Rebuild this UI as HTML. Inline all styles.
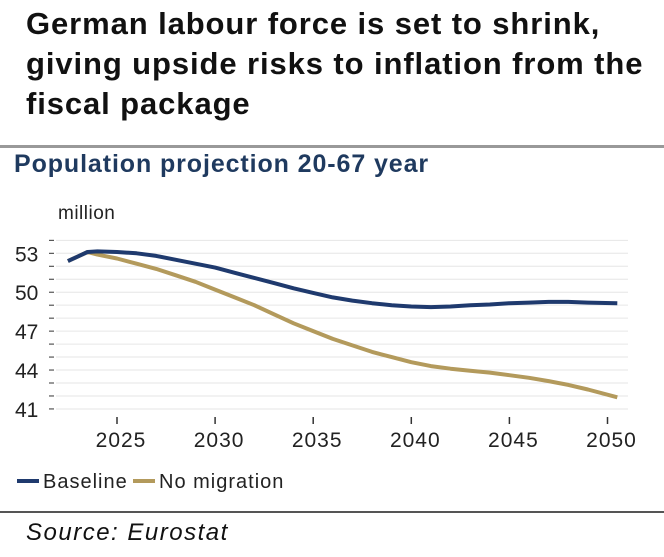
<!DOCTYPE html>
<html><head><meta charset="utf-8"><style>
body{margin:0;background:#fff;font-family:"Liberation Sans",sans-serif;}
#wrap{position:relative;width:664px;height:557px;overflow:hidden;}
.t{position:absolute;white-space:nowrap;}
</style></head><body>
<div id="wrap">
<div class="t" style="left:26px;top:4px;font-size:31px;font-weight:bold;line-height:40px;letter-spacing:0.9px;color:#111;">German labour force is set to shrink,<br>giving upside risks to inflation from the<br>fiscal package</div>
<div style="position:absolute;left:0;top:145px;width:664px;height:3px;background:#999;"></div>
<div class="t" style="left:14px;top:150px;font-size:25px;font-weight:bold;letter-spacing:0.9px;color:#1f3a5f;">Population projection 20-67 year</div>
<svg id="chart" width="664" height="557" style="position:absolute;left:0;top:0"></svg>
<div style="position:absolute;left:0;top:511px;width:664px;height:2px;background:#555;"></div>
<div class="t" style="left:26px;top:519px;font-size:24px;font-style:italic;letter-spacing:1.5px;color:#111;">Source: Eurostat</div>
</div>
<script>
const baseYears=[2022.5,2023.5,2024,2025,2026,2027,2028,2029,2030,2031,2032,2033,2034,2035,2036,2037,2038,2039,2040,2041,2042,2043,2044,2045,2046,2047,2048,2049,2050.5];
const baseline=[52.4,53.1,53.15,53.1,53.0,52.8,52.5,52.2,51.9,51.5,51.1,50.7,50.3,49.95,49.6,49.35,49.15,49.0,48.9,48.85,48.9,49.0,49.05,49.15,49.2,49.25,49.25,49.2,49.15];
const noMigration=[52.4,53.1,52.9,52.6,52.2,51.8,51.3,50.8,50.2,49.6,49.0,48.3,47.6,47.0,46.4,45.9,45.4,45.0,44.6,44.3,44.1,43.95,43.8,43.6,43.4,43.15,42.85,42.5,41.9];
const yTicks=[41,44,47,50,53];
const xTicks=[2025,2030,2035,2040,2045,2050];
const seriesNames=["Baseline","No migration"];
const NS="http://www.w3.org/2000/svg";
const svg=document.getElementById('chart');
const X=v=>117+(v-2025)*19.62;
const Y=v=>253.3+(53-v)*12.97;
function mk(t,a){const e=document.createElementNS(NS,t);for(const k in a)e.setAttribute(k,a[k]);svg.appendChild(e);return e;}
for(let v=41;v<=54;v++){
  const g=mk('line',{x1:56,x2:628,y1:Y(v),y2:Y(v),stroke:'#e6e6e6','stroke-width':1});
  
  
  const tk=mk('line',{x1:49,x2:54,y1:Y(v),y2:Y(v),stroke:'#333','stroke-width':1});
  
  
}
yTicks.forEach(v=>{const t=mk('text',{x:15,y:Y(v)+8,'font-size':21,fill:'#222','font-family':'Liberation Sans'});t.textContent=v;

});
xTicks.forEach(v=>{mk('line',{x1:X(v),x2:X(v),y1:417,y2:424,stroke:'#333','stroke-width':1.5});
const t=mk('text',{x:X(v)+4,y:447,'font-size':21,fill:'#222','text-anchor':'middle','font-family':'Liberation Sans','letter-spacing':'1'});t.textContent=v;

});
const u=mk('text',{x:58,y:219,'font-size':19,fill:'#222','font-family':'Liberation Sans','letter-spacing':'0.5'});u.textContent='million';


function line(vals,col,name){const d=vals.map((v,i)=>(i?'L':'M')+X(baseYears[i]).toFixed(1)+','+Y(v).toFixed(1)).join('');
const p=mk('path',{d:d,fill:'none',stroke:col,'stroke-width':4,'stroke-linejoin':'round'});

}
line(noMigration,'#b39a5c','no-migration-line');
line(baseline,'#1f3a6e','baseline-line');
const cols=['#1f3a6e','#b39a5c'];const lx=[17,133];
seriesNames.forEach((n,i)=>{const s=mk('line',{x1:lx[i],x2:lx[i]+22,y1:481,y2:481,stroke:cols[i],'stroke-width':4});


const t=mk('text',{x:lx[i]+26,y:488,'font-size':20,fill:'#222','font-family':'Liberation Sans','letter-spacing':'1'});t.textContent=n;

});
</script>
</body></html>
